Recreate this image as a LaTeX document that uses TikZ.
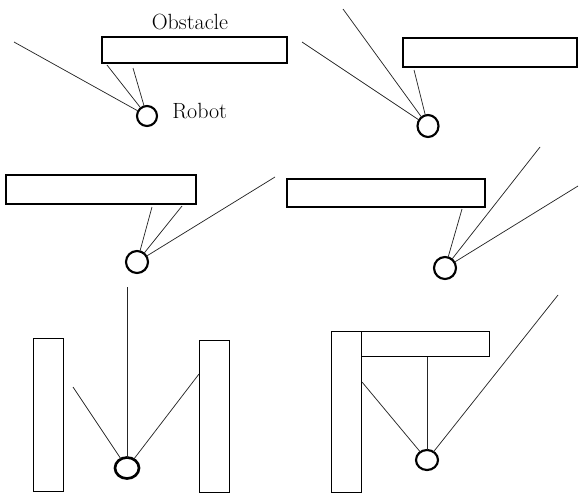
\documentclass[tikz,border=0pt]{standalone}
\usetikzlibrary{shapes.geometric}
\begin{document}
\begin{tikzpicture}[x=0.75pt,y=-0.75pt,
  wall/.style={draw, rectangle, inner sep=0pt, outer sep=0pt, line width=2pt},
  thinwall/.style={wall, line width=0.6pt},
  robot/.style={draw, ellipse, inner sep=0pt, outer sep=0pt, line width=1.6pt},
  ray/.style={line width=0.55pt, black!85},
  lbl/.style={font=\fontsize{16.5}{19}\selectfont, inner sep=0pt}]
\useasboundingbox (0,0) rectangle (580,493);

% --- Case 1: obstacle ahead, free space to the left
\node[wall, minimum width=185*0.75pt, minimum height=26*0.75pt] (o1) at (194.5,50) {};
\node[lbl] (lo) at (190,22) {Obstacle};
\node[robot, minimum width=20*0.75pt, minimum height=20*0.75pt] (r1) at (147,116) {};
\node[lbl, anchor=west] (lr) at (172,111) {Robot};
\coordinate (a1) at (14,42);
\coordinate (a2) at (107,65);
\coordinate (a3) at (133,68);
\draw[ray] (r1) -- (a1);
\draw[ray] (r1) -- (a2);
\draw[ray] (r1) -- (a3);

% --- Case 2: obstacle to the right
\node[wall, minimum width=174*0.75pt, minimum height=29*0.75pt] (o2) at (490,52.5) {};
\node[robot, minimum width=21*0.75pt, minimum height=22*0.75pt] (r2) at (428,126) {};
\coordinate (b1) at (302,42);
\coordinate (b2) at (343,9);
\coordinate (b3) at (414,70);
\draw[ray] (r2) -- (b1);
\draw[ray] (r2) -- (b2);
\draw[ray] (r2) -- (b3);

% --- Case 3: obstacle to the upper left
\node[wall, minimum width=190*0.75pt, minimum height=29*0.75pt] (o3) at (101,189.5) {};
\node[robot, minimum width=22*0.75pt, minimum height=22*0.75pt] (r3) at (137,262) {};
\coordinate (c1) at (152,207);
\coordinate (c2) at (182,206);
\coordinate (c3) at (275,177);
\draw[ray] (r3) -- (c1);
\draw[ray] (r3) -- (c2);
\draw[ray] (r3) -- (c3);

% --- Case 4: obstacle to the upper left, free space to the right
\node[wall, minimum width=198*0.75pt, minimum height=28*0.75pt] (o4) at (386,193) {};
\node[robot, minimum width=22*0.75pt, minimum height=22*0.75pt] (r4) at (445,268) {};
\coordinate (d1) at (462,209);
\coordinate (d2) at (540,147);
\coordinate (d3) at (578,186);
\draw[ray] (r4) -- (d1);
\draw[ray] (r4) -- (d2);
\draw[ray] (r4) -- (d3);

% --- Case 5: corridor between two walls
\node[thinwall, minimum width=30*0.75pt, minimum height=153*0.75pt] (o5a) at (48,414.5) {};
\node[thinwall, minimum width=30*0.75pt, minimum height=152*0.75pt] (o5b) at (214,416) {};
\node[robot, line width=2pt, minimum width=24*0.75pt, minimum height=21*0.75pt] (r5) at (127,468) {};
\coordinate (e1) at (127,287);
\coordinate (e2) at (73,387);
\coordinate (e3) at (199,374);
\draw[ray] (r5) -- (e1);
\draw[ray] (r5) -- (e2);
\draw[ray] (r5) -- (e3);

% --- Case 6: corner formed by two walls
\node[thinwall, minimum width=30*0.75pt, minimum height=161*0.75pt] (o6a) at (346,411.5) {};
\node[thinwall, minimum width=128*0.75pt, minimum height=25*0.75pt] (o6b) at (425,343.5) {};
\node[robot, minimum width=22*0.75pt, minimum height=20*0.75pt] (r6) at (427,460) {};
\coordinate (f1) at (427,357);
\coordinate (f2) at (362,382);
\coordinate (f3) at (558,295);
\draw[ray] (r6) -- (f1);
\draw[ray] (r6) -- (f2);
\draw[ray] (r6) -- (f3);
\end{tikzpicture}
\end{document}
